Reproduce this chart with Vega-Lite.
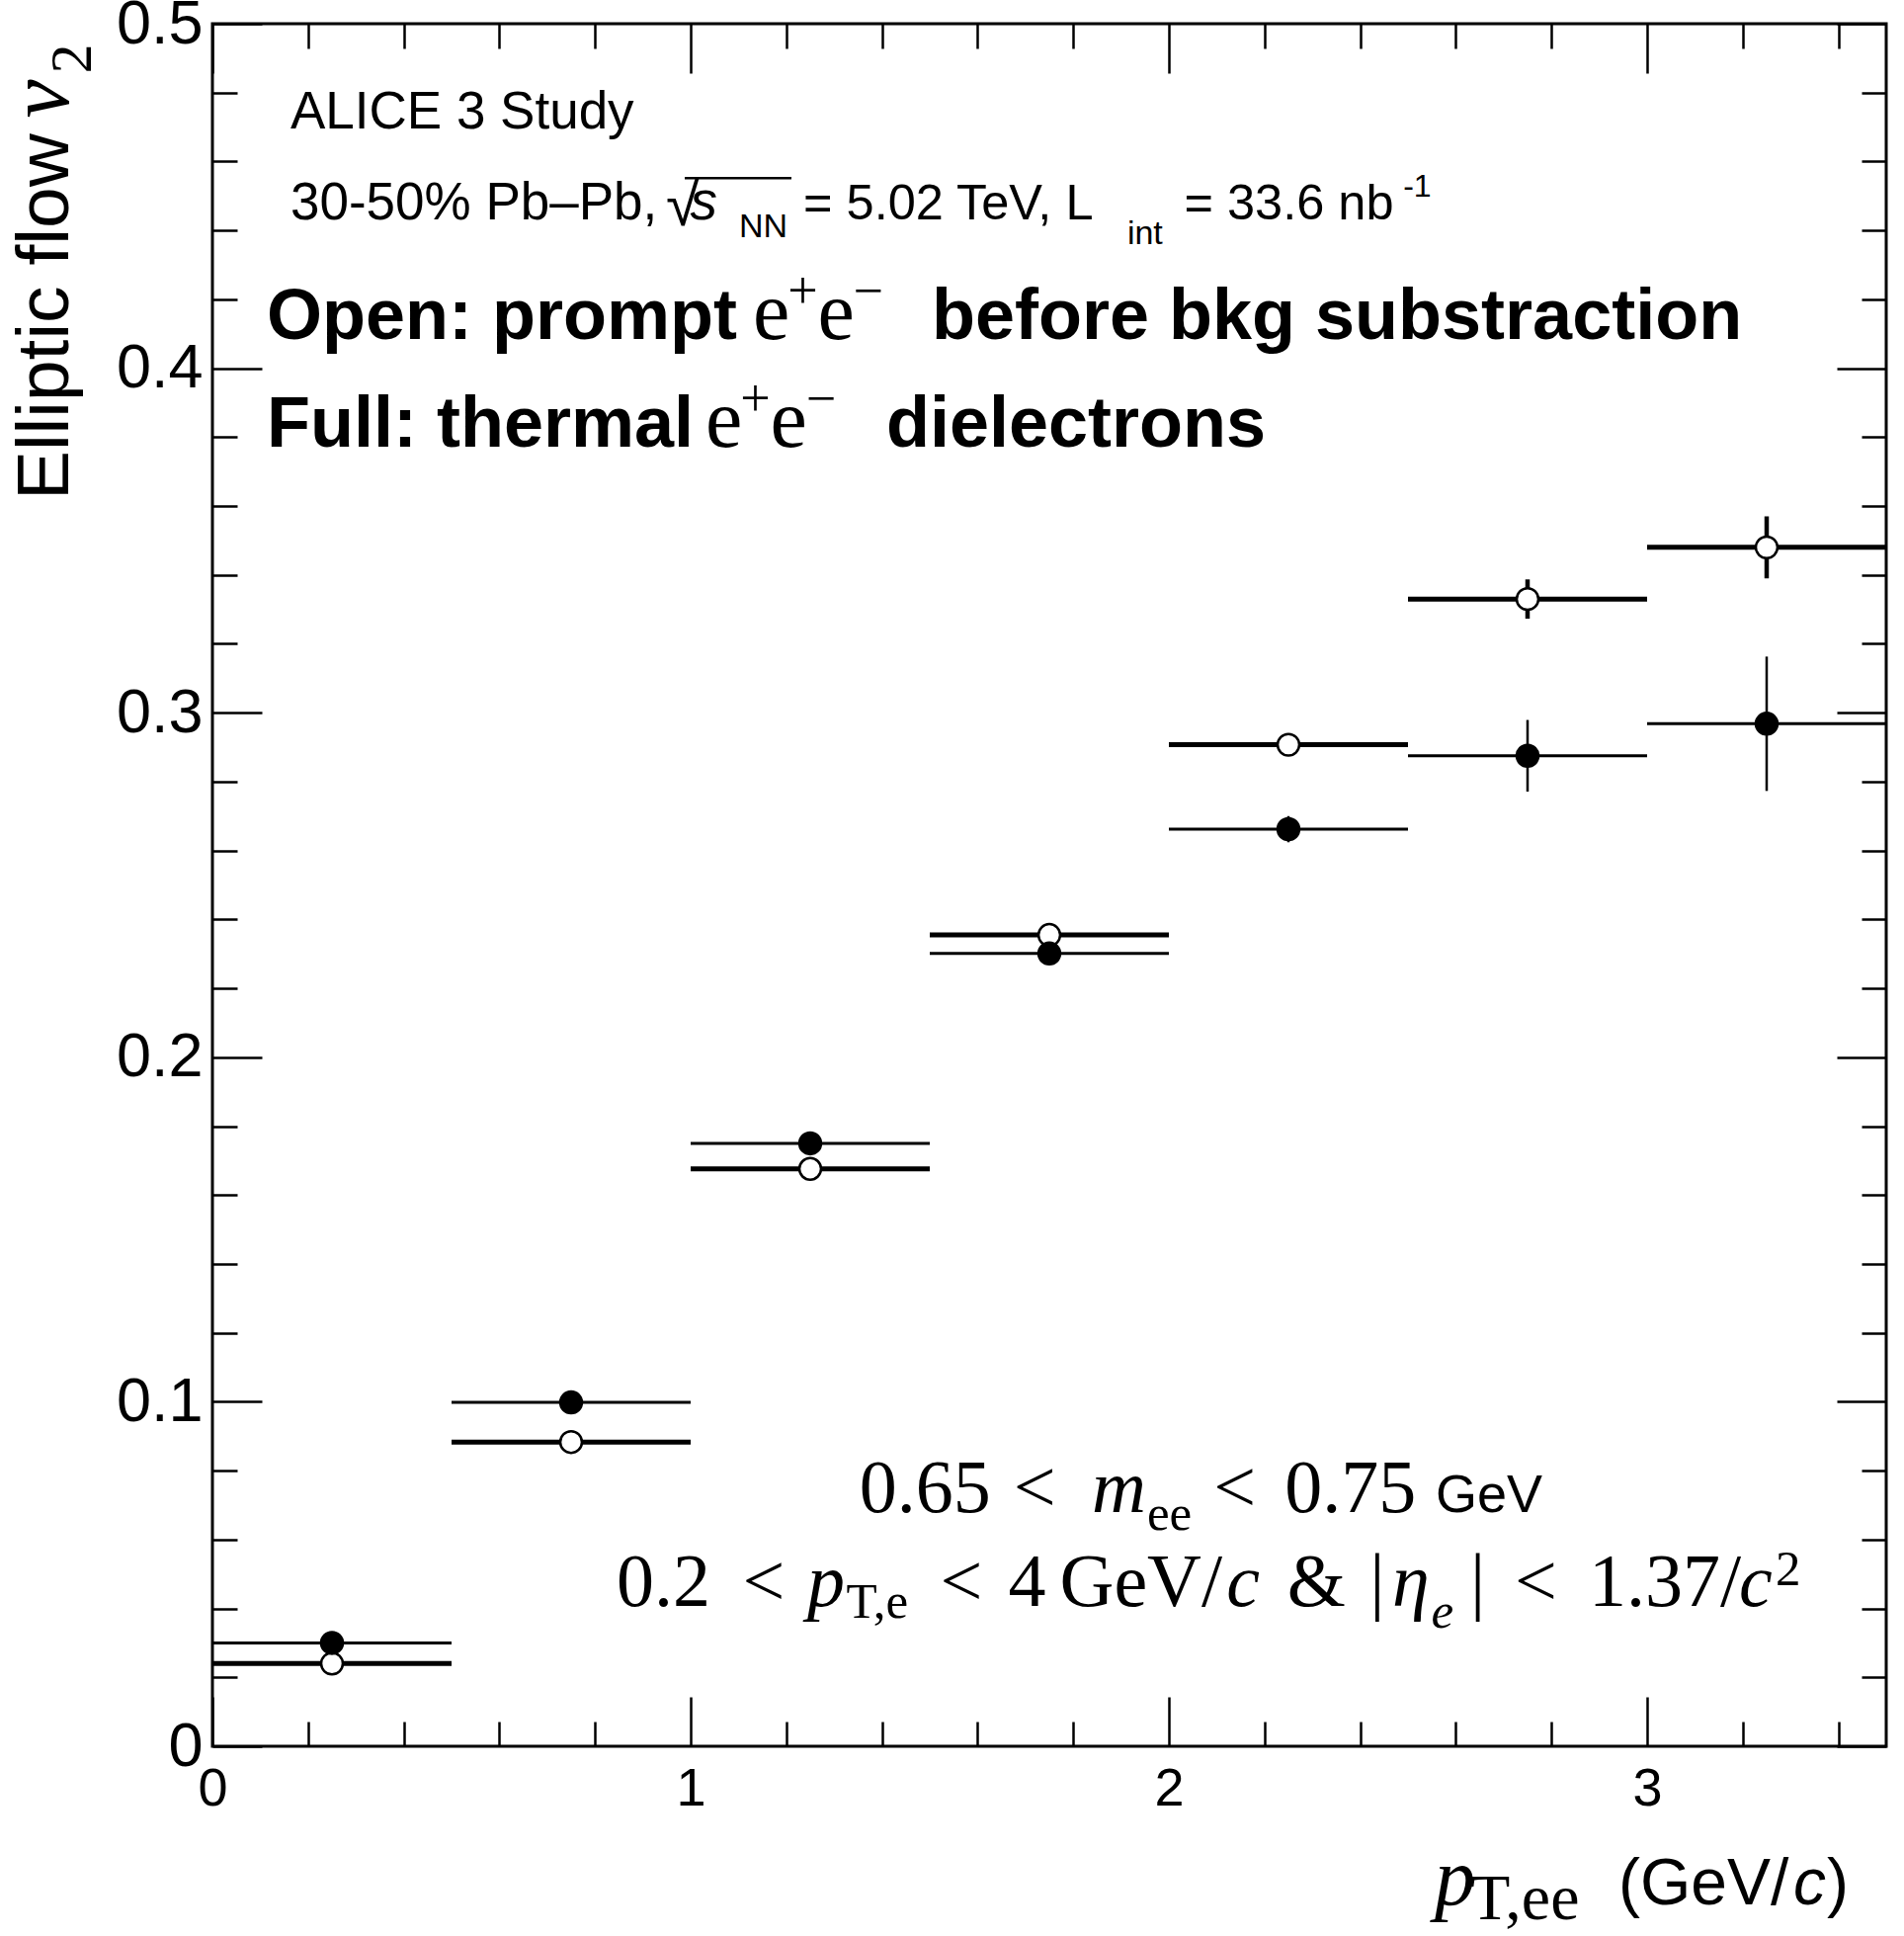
{
  "$schema": "https://vega.github.io/schema/vega-lite/v6.json",
  "width": 1694,
  "height": 1743,
  "autosize": {"type": "none"},
  "padding": {"left": 215, "top": 24, "right": 18, "bottom": 192},
  "background": "white",
  "data": {"values": [{}]},
  "datasets": {
    "bins": [
      {"pt": 0.25, "lo": 0.0, "hi": 0.5, "thermal": 0.0300, "thermal_lo": 0.0290, "thermal_hi": 0.0310, "prompt": 0.0240, "prompt_lo": 0.0232, "prompt_hi": 0.0248},
      {"pt": 0.75, "lo": 0.5, "hi": 1.0, "thermal": 0.0998, "thermal_lo": 0.0988, "thermal_hi": 0.1008, "prompt": 0.0883, "prompt_lo": 0.0875, "prompt_hi": 0.0891},
      {"pt": 1.25, "lo": 1.0, "hi": 1.5, "thermal": 0.1750, "thermal_lo": 0.1738, "thermal_hi": 0.1762, "prompt": 0.1676, "prompt_lo": 0.1668, "prompt_hi": 0.1684},
      {"pt": 1.75, "lo": 1.5, "hi": 2.0, "thermal": 0.2301, "thermal_lo": 0.2286, "thermal_hi": 0.2316, "prompt": 0.2355, "prompt_lo": 0.2346, "prompt_hi": 0.2364},
      {"pt": 2.25, "lo": 2.0, "hi": 2.5, "thermal": 0.2662, "thermal_lo": 0.2624, "thermal_hi": 0.2700, "prompt": 0.2907, "prompt_lo": 0.2893, "prompt_hi": 0.2921},
      {"pt": 2.75, "lo": 2.5, "hi": 3.0, "thermal": 0.2875, "thermal_lo": 0.2771, "thermal_hi": 0.2979, "prompt": 0.3330, "prompt_lo": 0.3273, "prompt_hi": 0.3387},
      {"pt": 3.25, "lo": 3.0, "hi": 3.5, "thermal": 0.2968, "thermal_lo": 0.2773, "thermal_hi": 0.3163, "prompt": 0.3480, "prompt_lo": 0.3390, "prompt_hi": 0.3570}
    ]
  },
  "config": {
    "view": {"stroke": "black", "strokeWidth": 3},
    "mark": {"color": "black"},
    "text": {"color": "black", "align": "left", "baseline": "alphabetic"},
    "axis": {"grid": false, "domain": false, "tickColor": "black", "tickWidth": 2.5, "labelColor": "black", "labelFont": "Liberation Sans", "title": null},
    "style": {
      "lbl": {"font": "Liberation Sans", "fontSize": 53},
      "lbl2": {"font": "Liberation Sans", "fontSize": 50.5},
      "lbli": {"font": "Liberation Sans", "fontSize": 55, "fontStyle": "italic"},
      "lblsub": {"font": "Liberation Sans", "fontSize": 34},
      "lblsup": {"font": "Liberation Sans", "fontSize": 32},
      "rad": {"font": "Liberation Sans", "fontSize": 62},
      "bold": {"font": "Liberation Sans", "fontSize": 72, "fontWeight": "bold"},
      "ee": {"font": "Liberation Serif", "fontSize": 84},
      "eesup": {"font": "Liberation Serif", "fontSize": 54},
      "cut": {"font": "Liberation Serif", "fontSize": 76},
      "cuti": {"font": "Liberation Serif", "fontSize": 76, "fontStyle": "italic"},
      "cutsub": {"font": "Liberation Serif", "fontSize": 51},
      "cutsubi": {"font": "Liberation Serif", "fontSize": 51, "fontStyle": "italic"},
      "gev": {"font": "Liberation Sans", "fontSize": 54},
      "ytitle": {"font": "Liberation Sans", "fontSize": 75, "angle": 270},
      "ytitlev": {"font": "Liberation Serif", "fontSize": 88, "fontStyle": "italic", "angle": 270},
      "ytitlesub": {"font": "Liberation Serif", "fontSize": 60, "angle": 270},
      "xtp": {"font": "Liberation Serif", "fontSize": 82, "fontStyle": "italic"},
      "xtsub": {"font": "Liberation Serif", "fontSize": 66},
      "xt": {"font": "Liberation Sans", "fontSize": 66},
      "xti": {"font": "Liberation Sans", "fontSize": 66, "fontStyle": "italic"}
    }
  },
  "resolve": {"axis": {"x": "independent", "y": "independent"}},
  "layer": [
    {
      "data": {"name": "bins"},
      "mark": {"type": "rule", "strokeWidth": 5},
      "encoding": {
        "x": {"field": "lo", "type": "quantitative", "scale": {"domain": [0, 3.5], "nice": false, "zero": false},
              "axis": {"orient": "bottom", "values": [0, 1, 2, 3], "ticks": false, "tickSize": 0, "labels": true, "labelFontSize": 54, "labelPadding": 16, "labelFlush": false, "labelOverlap": false, "title": null}},
        "x2": {"field": "hi"},
        "y": {"field": "prompt", "type": "quantitative", "scale": {"domain": [0, 0.5], "nice": false, "zero": false},
              "axis": {"orient": "left", "values": [0, 0.1, 0.2, 0.3, 0.4, 0.5], "ticks": false, "tickSize": 0, "labels": true, "labelFontSize": 63, "labelPadding": 10, "labelFlush": false, "labelOverlap": false, "labelExpr": "datum.value == 0 ? '0' : format(datum.value, '.1f')", "title": null}}
      }
    },
    {
      "data": {"name": "bins"},
      "mark": {"type": "rule", "strokeWidth": 3},
      "encoding": {
        "x": {"field": "lo", "type": "quantitative", "scale": {"domain": [0, 3.5], "nice": false, "zero": false},
              "axis": {"orient": "bottom", "values": [0, 1, 2, 3], "ticks": true, "tickSize": -50, "labels": false, "title": null}},
        "x2": {"field": "hi"},
        "y": {"field": "thermal", "type": "quantitative", "scale": {"domain": [0, 0.5], "nice": false, "zero": false},
              "axis": {"orient": "left", "values": [0, 0.1, 0.2, 0.3, 0.4, 0.5], "ticks": true, "tickSize": -50, "labels": false, "title": null}}
      }
    },
    {
      "data": {"name": "bins"},
      "mark": {"type": "rule", "strokeWidth": 4.5},
      "encoding": {
        "x": {"field": "pt", "type": "quantitative", "scale": {"domain": [0, 3.5], "nice": false, "zero": false},
              "axis": {"orient": "bottom", "values": [0.2, 0.4, 0.6, 0.8, 1.2, 1.4, 1.6, 1.8, 2.2, 2.4, 2.6, 2.8, 3.2, 3.4], "ticks": true, "tickSize": -25, "labels": false, "title": null}},
        "y": {"field": "prompt_lo", "type": "quantitative", "scale": {"domain": [0, 0.5], "nice": false, "zero": false},
              "axis": {"orient": "left", "values": [0.02, 0.04, 0.06, 0.08, 0.12, 0.14, 0.16, 0.18, 0.22, 0.24, 0.26, 0.28, 0.32, 0.34, 0.36, 0.38, 0.42, 0.44, 0.46, 0.48], "ticks": true, "tickSize": -25, "labels": false, "title": null}},
        "y2": {"field": "prompt_hi"}
      }
    },
    {
      "data": {"name": "bins"},
      "mark": {"type": "rule", "strokeWidth": 2.5},
      "encoding": {
        "x": {"field": "pt", "type": "quantitative", "scale": {"domain": [0, 3.5], "nice": false, "zero": false},
              "axis": {"orient": "top", "values": [0, 1, 2, 3], "ticks": true, "tickSize": -50, "labels": false, "title": null}},
        "y": {"field": "thermal_lo", "type": "quantitative", "scale": {"domain": [0, 0.5], "nice": false, "zero": false},
              "axis": {"orient": "right", "values": [0, 0.1, 0.2, 0.3, 0.4, 0.5], "ticks": true, "tickSize": -50, "labels": false, "title": null}},
        "y2": {"field": "thermal_hi"}
      }
    },
    {
      "data": {"name": "bins"},
      "mark": {"type": "point", "shape": "circle", "filled": false, "fill": "white", "fillOpacity": 1, "stroke": "black", "strokeWidth": 2.5, "size": 480, "opacity": 1},
      "encoding": {
        "x": {"field": "pt", "type": "quantitative", "scale": {"domain": [0, 3.5], "nice": false, "zero": false},
              "axis": {"orient": "top", "values": [0.2, 0.4, 0.6, 0.8, 1.2, 1.4, 1.6, 1.8, 2.2, 2.4, 2.6, 2.8, 3.2, 3.4], "ticks": true, "tickSize": -25, "labels": false, "title": null}},
        "y": {"field": "prompt", "type": "quantitative", "scale": {"domain": [0, 0.5], "nice": false, "zero": false},
              "axis": {"orient": "right", "values": [0.02, 0.04, 0.06, 0.08, 0.12, 0.14, 0.16, 0.18, 0.22, 0.24, 0.26, 0.28, 0.32, 0.34, 0.36, 0.38, 0.42, 0.44, 0.46, 0.48], "ticks": true, "tickSize": -25, "labels": false, "title": null}}
      }
    },
    {
      "data": {"name": "bins"},
      "mark": {"type": "point", "shape": "circle", "filled": true, "fill": "black", "opacity": 1, "size": 600},
      "encoding": {
        "x": {"field": "pt", "type": "quantitative", "axis": null},
        "y": {"field": "thermal", "type": "quantitative", "axis": null}
      }
    },
    {"mark": {"type": "text", "style": "lbl", "text": "ALICE 3 Study"}, "encoding": {"x": {"datum": 0.1632, "axis": null}, "y": {"datum": 0.4696, "axis": null}}},
    {"mark": {"type": "text", "style": "lbl", "text": "30-50% Pb\u2013Pb,"}, "encoding": {"x": {"datum": 0.1632, "axis": null}, "y": {"datum": 0.4432, "axis": null}}},
    {"mark": {"type": "text", "style": "rad", "text": "\u221a"}, "encoding": {"x": {"datum": 0.9483, "axis": null}, "y": {"datum": 0.4415, "axis": null}}},
    {"mark": {"type": "rule", "strokeWidth": 2.5}, "encoding": {"x": {"datum": 0.9876, "axis": null}, "x2": {"datum": 1.2107}, "y": {"datum": 0.4552, "axis": null}}},
    {"mark": {"type": "text", "style": "lbli", "text": "s"}, "encoding": {"x": {"datum": 0.9990, "axis": null}, "y": {"datum": 0.4432, "axis": null}}},
    {"mark": {"type": "text", "style": "lblsub", "text": "NN"}, "encoding": {"x": {"datum": 1.1012, "axis": null}, "y": {"datum": 0.4380, "axis": null}}},
    {"mark": {"type": "text", "style": "lbl2", "text": "= 5.02 TeV, L"}, "encoding": {"x": {"datum": 1.2356, "axis": null}, "y": {"datum": 0.4432, "axis": null}}},
    {"mark": {"type": "text", "style": "lblsub", "text": "int"}, "encoding": {"x": {"datum": 1.9130, "axis": null}, "y": {"datum": 0.4360, "axis": null}}},
    {"mark": {"type": "text", "style": "lbl2", "text": "= 33.6 nb"}, "encoding": {"x": {"datum": 2.0320, "axis": null}, "y": {"datum": 0.4432, "axis": null}}},
    {"mark": {"type": "text", "style": "lblsup", "text": "-1"}, "encoding": {"x": {"datum": 2.4900, "axis": null}, "y": {"datum": 0.4498, "axis": null}}},
    {"mark": {"type": "text", "style": "bold", "text": "Open: prompt"}, "encoding": {"x": {"datum": 0.1136, "axis": null}, "y": {"datum": 0.4085, "axis": null}}},
    {"mark": {"type": "text", "style": "ee", "text": "e"}, "encoding": {"x": {"datum": 1.1302, "axis": null}, "y": {"datum": 0.4085, "axis": null}}},
    {"mark": {"type": "text", "style": "eesup", "text": "+"}, "encoding": {"x": {"datum": 1.2030, "axis": null}, "y": {"datum": 0.4175, "axis": null}}},
    {"mark": {"type": "text", "style": "ee", "text": "e"}, "encoding": {"x": {"datum": 1.2655, "axis": null}, "y": {"datum": 0.4085, "axis": null}}},
    {"mark": {"type": "text", "style": "eesup", "text": "\u2212"}, "encoding": {"x": {"datum": 1.3400, "axis": null}, "y": {"datum": 0.4175, "axis": null}}},
    {"mark": {"type": "text", "style": "bold", "text": "before bkg substraction"}, "encoding": {"x": {"datum": 1.5041, "axis": null}, "y": {"datum": 0.4085, "axis": null}}},
    {"mark": {"type": "text", "style": "bold", "text": "Full: thermal"}, "encoding": {"x": {"datum": 0.1136, "axis": null}, "y": {"datum": 0.3772, "axis": null}}},
    {"mark": {"type": "text", "style": "ee", "text": "e"}, "encoding": {"x": {"datum": 1.0310, "axis": null}, "y": {"datum": 0.3772, "axis": null}}},
    {"mark": {"type": "text", "style": "eesup", "text": "+"}, "encoding": {"x": {"datum": 1.1040, "axis": null}, "y": {"datum": 0.3862, "axis": null}}},
    {"mark": {"type": "text", "style": "ee", "text": "e"}, "encoding": {"x": {"datum": 1.1665, "axis": null}, "y": {"datum": 0.3772, "axis": null}}},
    {"mark": {"type": "text", "style": "eesup", "text": "\u2212"}, "encoding": {"x": {"datum": 1.2410, "axis": null}, "y": {"datum": 0.3862, "axis": null}}},
    {"mark": {"type": "text", "style": "bold", "text": "dielectrons"}, "encoding": {"x": {"datum": 1.4091, "axis": null}, "y": {"datum": 0.3772, "axis": null}}},
    {"mark": {"type": "text", "style": "cut", "text": "0.65"}, "encoding": {"x": {"datum": 1.3528, "axis": null}, "y": {"datum": 0.0680, "axis": null}}},
    {"mark": {"type": "text", "style": "cut", "text": "<"}, "encoding": {"x": {"datum": 1.6751, "axis": null}, "y": {"datum": 0.0680, "axis": null}}},
    {"mark": {"type": "text", "style": "cuti", "text": "m"}, "encoding": {"x": {"datum": 1.8388, "axis": null}, "y": {"datum": 0.0680, "axis": null}}},
    {"mark": {"type": "text", "style": "cutsub", "text": "ee"}, "encoding": {"x": {"datum": 1.9545, "axis": null}, "y": {"datum": 0.0628, "axis": null}}},
    {"mark": {"type": "text", "style": "cut", "text": "<"}, "encoding": {"x": {"datum": 2.0935, "axis": null}, "y": {"datum": 0.0680, "axis": null}}},
    {"mark": {"type": "text", "style": "cut", "text": "0.75"}, "encoding": {"x": {"datum": 2.2422, "axis": null}, "y": {"datum": 0.0680, "axis": null}}},
    {"mark": {"type": "text", "style": "gev", "text": "GeV"}, "encoding": {"x": {"datum": 2.5579, "axis": null}, "y": {"datum": 0.0680, "axis": null}}},
    {"mark": {"type": "text", "style": "cut", "text": "0.2"}, "encoding": {"x": {"datum": 0.8450, "axis": null}, "y": {"datum": 0.0407, "axis": null}}},
    {"mark": {"type": "text", "style": "cut", "text": "<"}, "encoding": {"x": {"datum": 1.1085, "axis": null}, "y": {"datum": 0.0407, "axis": null}}},
    {"mark": {"type": "text", "style": "cuti", "text": "p"}, "encoding": {"x": {"datum": 1.2438, "axis": null}, "y": {"datum": 0.0407, "axis": null}}},
    {"mark": {"type": "text", "style": "cutsub", "text": "T,e"}, "encoding": {"x": {"datum": 1.3254, "axis": null}, "y": {"datum": 0.0373, "axis": null}}},
    {"mark": {"type": "text", "style": "cut", "text": "<"}, "encoding": {"x": {"datum": 1.5217, "axis": null}, "y": {"datum": 0.0407, "axis": null}}},
    {"mark": {"type": "text", "style": "cut", "text": "4"}, "encoding": {"x": {"datum": 1.6643, "axis": null}, "y": {"datum": 0.0407, "axis": null}}},
    {"mark": {"type": "text", "style": "cut", "text": "GeV/"}, "encoding": {"x": {"datum": 1.7717, "axis": null}, "y": {"datum": 0.0407, "axis": null}}},
    {"mark": {"type": "text", "style": "cuti", "text": "c"}, "encoding": {"x": {"datum": 2.1203, "axis": null}, "y": {"datum": 0.0407, "axis": null}}},
    {"mark": {"type": "text", "style": "cut", "text": "&"}, "encoding": {"x": {"datum": 2.2474, "axis": null}, "y": {"datum": 0.0407, "axis": null}}},
    {"mark": {"type": "text", "style": "cut", "text": "|"}, "encoding": {"x": {"datum": 2.4200, "axis": null}, "y": {"datum": 0.0407, "axis": null}}},
    {"mark": {"type": "text", "style": "cuti", "text": "\u03b7"}, "encoding": {"x": {"datum": 2.4669, "axis": null}, "y": {"datum": 0.0407, "axis": null}}},
    {"mark": {"type": "text", "style": "cutsubi", "text": "e"}, "encoding": {"x": {"datum": 2.5486, "axis": null}, "y": {"datum": 0.0344, "axis": null}}},
    {"mark": {"type": "text", "style": "cut", "text": "|"}, "encoding": {"x": {"datum": 2.6300, "axis": null}, "y": {"datum": 0.0407, "axis": null}}},
    {"mark": {"type": "text", "style": "cut", "text": "<"}, "encoding": {"x": {"datum": 2.7231, "axis": null}, "y": {"datum": 0.0407, "axis": null}}},
    {"mark": {"type": "text", "style": "cut", "text": "1.37/"}, "encoding": {"x": {"datum": 2.8781, "axis": null}, "y": {"datum": 0.0407, "axis": null}}},
    {"mark": {"type": "text", "style": "cuti", "text": "c"}, "encoding": {"x": {"datum": 3.1922, "axis": null}, "y": {"datum": 0.0407, "axis": null}}},
    {"mark": {"type": "text", "style": "cutsub", "text": "2"}, "encoding": {"x": {"datum": 3.2686, "axis": null}, "y": {"datum": 0.0468, "axis": null}}},
    {"mark": {"type": "text", "style": "ytitle", "text": "Elliptic flow"}, "encoding": {"x": {"datum": -0.3017, "axis": null}, "y": {"datum": 0.3617, "axis": null}}},
    {"mark": {"type": "text", "style": "ytitlev", "text": "v"}, "encoding": {"x": {"datum": -0.3017, "axis": null}, "y": {"datum": 0.4726, "axis": null}}},
    {"mark": {"type": "text", "style": "ytitlesub", "text": "2"}, "encoding": {"x": {"datum": -0.2541, "axis": null}, "y": {"datum": 0.4855, "axis": null}}},
    {"mark": {"type": "text", "style": "xtp", "text": "p"}, "encoding": {"x": {"datum": 2.5558, "axis": null}, "y": {"datum": -0.0459, "axis": null}}},
    {"mark": {"type": "text", "style": "xtsub", "text": "T,ee"}, "encoding": {"x": {"datum": 2.6300, "axis": null}, "y": {"datum": -0.0502, "axis": null}}},
    {"mark": {"type": "text", "style": "xt", "text": "(GeV/"}, "encoding": {"x": {"datum": 2.9401, "axis": null}, "y": {"datum": -0.0459, "axis": null}}},
    {"mark": {"type": "text", "style": "xti", "text": "c"}, "encoding": {"x": {"datum": 3.3058, "axis": null}, "y": {"datum": -0.0459, "axis": null}}},
    {"mark": {"type": "text", "style": "xt", "text": ")"}, "encoding": {"x": {"datum": 3.3760, "axis": null}, "y": {"datum": -0.0459, "axis": null}}}
  ]
}
